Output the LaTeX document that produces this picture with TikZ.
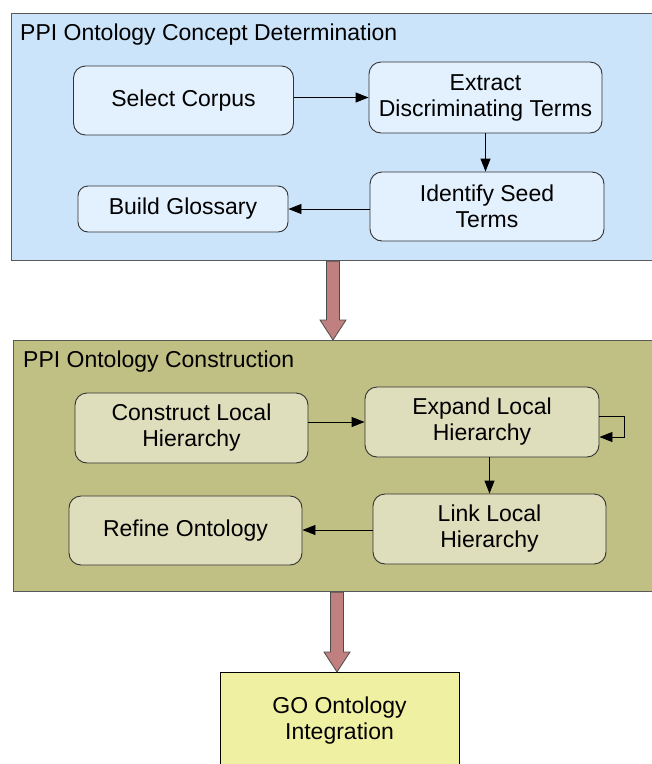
\documentclass[tikz,border=0pt]{standalone}
\usepackage{fontspec}
\setmainfont{Liberation Sans}
\usetikzlibrary{arrows.meta,calc}
\definecolor{panelblue}{RGB}{204,228,250}
\definecolor{nodeblue}{RGB}{227,240,253}
\definecolor{panelolive}{RGB}{192,191,132}
\definecolor{nodeolive}{RGB}{222,221,188}
\definecolor{goyellow}{RGB}{240,240,162}
\definecolor{bigred}{RGB}{192,128,128}
\begin{document}
\begin{tikzpicture}[x=1pt,y=-1pt,
  font=\fontsize{23}{26}\selectfont,
  panel/.style={draw=black!65,line width=1.2pt,anchor=north west,inner sep=0pt,minimum width=660pt},
  stepbox/.style={draw=black!80,line width=0.9pt,rounded corners=12pt,align=center,inner sep=0pt},
  conn/.style={draw=black,line width=0.9pt,-{Triangle[length=13pt,width=10pt]}},
  fatarrow/.style={fill=bigred,draw=black!70,line width=0.8pt},
  ptitle/.style={anchor=base west,inner sep=0pt}
]
\clip (0,0) rectangle (652,764);
\fill[white] (0,0) rectangle (652,764);

% Panel 1
\node[panel,fill=panelblue,minimum height=247pt] (p1) at (11,13) {};
\node[ptitle] (t1) at (20,40) {PPI Ontology Concept Determination};
\node[stepbox,fill=nodeblue,minimum width=220pt,minimum height=69pt] (sc) at (183.5,100.5) {Select Corpus};
\node[stepbox,fill=nodeblue,minimum width=233pt,minimum height=71pt] (ex) at (485.5,97.5) {Extract\\Discriminating Terms};
\node[stepbox,fill=nodeblue,minimum width=234pt,minimum height=69pt] (id) at (487,206.5) {Identify Seed\\Terms};
\node[stepbox,fill=nodeblue,minimum width=210pt,minimum height=46pt,rounded corners=10pt] (bg) at (183,209) {Build Glossary};
\draw[conn] (sc.east |- ex.west) -- (ex.west);
\draw[conn] (ex.south) -- (ex.south |- id.north);
\draw[conn] (id.west |- bg.east) -- (bg.east);

% Panel 2
\node[panel,fill=panelolive,minimum height=251pt] (p2) at (13,340) {};
\node[ptitle] (t2) at (23,367) {PPI Ontology Construction};
\node[stepbox,fill=nodeolive,minimum width=233pt,minimum height=70pt] (cl) at (191.5,428) {Construct Local\\Hierarchy};
\node[stepbox,fill=nodeolive,minimum width=234pt,minimum height=70pt] (el) at (482,422) {Expand Local\\Hierarchy};
\node[stepbox,fill=nodeolive,minimum width=233pt,minimum height=70pt] (ll) at (489.5,529) {Link Local\\Hierarchy};
\node[stepbox,fill=nodeolive,minimum width=233pt,minimum height=69pt] (ro) at (185.5,530.5) {Refine Ontology};
\draw[conn] (cl.east |- el.west) -- (el.west);
\draw[conn] (el.south -| ll.north) -- (ll.north);
\draw[conn] (ll.west |- 0,530) -- (ro.east |- 0,530);
\coordinate (loopa) at ($(el.east)+(0,-6)$);
\coordinate (loopb) at ($(el.east)+(0,15)$);
\draw[conn] (loopa) -- ++(25,0) |- (loopb);

% Fat arrow 1
\coordinate (a1s) at ($(p1.south west)+(322,0)$);
\coordinate (a1t) at (a1s |- p2.north);
\filldraw[fatarrow] ($(a1s)+(-6.5,0)$) -- ($(a1t)+(-6.5,-20)$) -- ($(a1t)+(-13,-20)$) -- (a1t)
  -- ($(a1t)+(13,-20)$) -- ($(a1t)+(6.5,-20)$) -- ($(a1s)+(6.5,0)$) -- cycle;

% GO box
\node[draw=black,line width=0.9pt,fill=goyellow,minimum width=239pt,minimum height=96pt,anchor=north,align=center,inner sep=0pt] (go) at (339.5,672) {GO Ontology\\Integration};

% Fat arrow 2
\coordinate (a2s) at ($(p2.south west)+(324,0)$);
\coordinate (a2t) at (a2s |- go.north);
\filldraw[fatarrow] ($(a2s)+(-6.5,0)$) -- ($(a2t)+(-6.5,-20)$) -- ($(a2t)+(-13,-20)$) -- (a2t)
  -- ($(a2t)+(13,-20)$) -- ($(a2t)+(6.5,-20)$) -- ($(a2s)+(6.5,0)$) -- cycle;
\end{tikzpicture}
\end{document}
